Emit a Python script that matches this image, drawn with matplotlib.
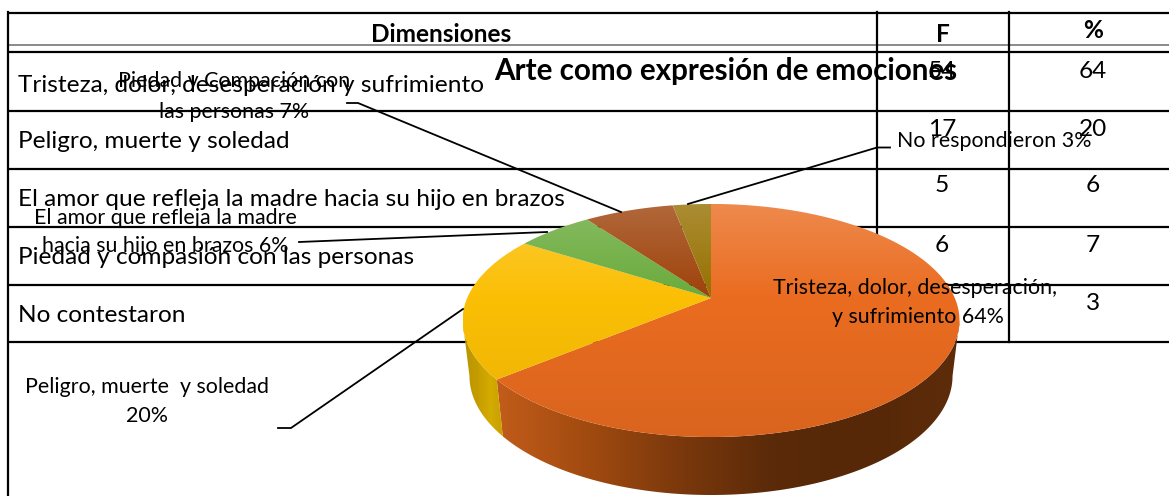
import matplotlib
matplotlib.use('Agg')
import matplotlib.pyplot as plt
import numpy as np
from matplotlib.colors import LinearSegmentedColormap, to_rgb
from matplotlib.patches import Polygon

plt.rcParams['font.family'] = ['Lato', 'DejaVu Sans']

# table
headers = ['Dimensiones', 'F', '%']
dimensiones = ['Tristeza, dolor, desesperación y sufrimiento',
               'Peligro, muerte y soledad',
               'El amor que refleja la madre hacia su hijo en brazos',
               'Piedad y compasión con las personas',
               'No contestaron']
frecuencia = [54, 17, 5, 6, 3]
porcentaje = [64, 20, 6, 7, 3]

# pie
titulo = 'Arte como expresión de emociones'
pie_values = [64, 20, 6, 7, 3]
pie_colors = ['#ea6c20', '#fbbf05', '#6aab3c', '#9e420a', '#967000']

W, H = 1169, 496
fig = plt.figure(figsize=(W/100, H/100), dpi=100)
ax = fig.add_axes([0, 0, 1, 1])
ax.set_xlim(0, W)
ax.set_ylim(H, 0)
ax.axis('off')

# table lines (pixel layout)
row_y = [110.5, 168.5, 226.5, 285, 342]
for y in [12.5, 52] + row_y:
    ax.plot([8, W], [y, y], color='k', lw=1.6, zorder=1, solid_capstyle='butt')
ax.plot([8, W], [45, 45], color='#777777', lw=1.2, zorder=1)
ax.plot([8, 8], [12, H], color='k', lw=1.6, zorder=1)
for x in [877, 1009]:
    ax.plot([x, x], [12, 342], color='k', lw=1.6, zorder=1)

fs_row = 17.6
ax.text(441, 34, headers[0], fontsize=17.6, fontweight='bold', ha='center', va='center', zorder=2)
ax.text(943, 35, headers[1], fontsize=17.6, fontweight='bold', ha='center', va='center', zorder=2)
ax.text(1093, 31, headers[2], fontsize=17.6, fontweight='bold', ha='center', va='center', zorder=2)
for yc, name in zip([85, 142, 200, 258, 316], dimensiones):
    ax.text(18, yc, name, fontsize=fs_row, ha='left', va='center', zorder=2)
for yc, f in zip([71, 129, 186, 245, 303], frecuencia):
    ax.text(942, yc, str(f), fontsize=fs_row, ha='center', va='center', zorder=2)
for yc, p in zip([71, 129, 186, 245, 303], porcentaje):
    ax.text(1093, yc, str(p), fontsize=fs_row, ha='center', va='center', zorder=2)


def project(theta, x0, y0, a, b, k=0.193):
    # circle seen in perspective, theta clockwise from the top
    u = np.sin(theta)
    v = -np.cos(theta)
    d = 1 - k*v
    return x0 + a*u/d, y0 + b*v/d


def fill_gradient(xy, cmap, vertical, zorder):
    poly = Polygon(xy, closed=True, facecolor='none', edgecolor='none', transform=ax.transData)
    ax.add_patch(poly)
    x1, x2 = xy[:, 0].min(), xy[:, 0].max()
    y1, y2 = xy[:, 1].min(), xy[:, 1].max()
    if vertical:
        # gradient is tied to the whole pie top
        y1, y2 = 204, 437
        grad = np.linspace(0, 1, 256).reshape(-1, 1)
    else:
        grad = np.linspace(0, 1, 256).reshape(1, -1)
    im = ax.imshow(grad, extent=[x1, x2, y2, y1], cmap=cmap, aspect='auto', zorder=zorder,
                   interpolation='bilinear', vmin=0, vmax=1)
    im.set_clip_path(poly)


def shade(c, f):
    c = np.array(to_rgb(c))
    if f > 0:
        return tuple(c + (1-c)*f)
    return tuple(c*(1+f))


x0, y0, a, b = 711, 298, 243.8, 112.2
xb, yb, ab, bb = 711, 353, 237, 114.6

edges = np.cumsum([0] + pie_values)/sum(pie_values)*2*np.pi

# side wall, front part only
vis1, vis2 = np.radians(101.1), np.radians(258.9)
wall_cmaps = [
    LinearSegmentedColormap.from_list('w0', ['#c25c1a', '#a04a10', '#7a380c', '#5a2a09', '#562808', '#5e2c0a']),
    LinearSegmentedColormap.from_list('w1', ['#b89400', '#c49c00', '#d4ab00', '#c8a000']),
]
for i in range(2):
    t1 = max(edges[i], vis1)
    t2 = min(edges[i+1], vis2)
    th = np.linspace(t1, t2, 120)
    xt, yt = project(th, x0, y0, a, b)
    xw, yw = project(th[::-1], xb, yb, ab, bb)
    xy = np.column_stack([np.r_[xt, xw], np.r_[yt, yw]])
    fill_gradient(xy, wall_cmaps[i], False, 3)

# top of the pie
for i, col in enumerate(pie_colors):
    th = np.linspace(edges[i], edges[i+1], 160)
    xt, yt = project(th, x0, y0, a, b)
    xy = np.column_stack([np.r_[x0, xt], np.r_[y0, yt]])
    cm = LinearSegmentedColormap.from_list('t%d' % i, [(0, shade(col, 0.2)), (0.4, shade(col, 0.0)),
                                                       (1, shade(col, -0.07))])
    fill_gradient(xy, cm, True, 4)

ax.set_xlim(0, W)
ax.set_ylim(H, 0)

# leader lines
leaders = [([347, 358, 621], [103, 103, 212]),
           ([890, 877, 688], [147.5, 147.5, 204]),
           ([299, 547], [242, 232]),
           ([278, 291, 463], [428, 428, 309])]
for lx, ly in leaders:
    ax.plot(lx, ly, color='k', lw=1.3, zorder=5, solid_joinstyle='miter')

fs_lab = 15.4
ax.text(726, 71, titulo, fontsize=21.3, fontweight='bold', ha='center', va='center', zorder=6)
ax.text(234, 81, 'Piedad y Compación con', fontsize=fs_lab, ha='center', va='center', zorder=6)
ax.text(234, 112, 'las personas 7%', fontsize=fs_lab, ha='center', va='center', zorder=6)
ax.text(165, 218, 'El amor que refleja la madre', fontsize=fs_lab, ha='center', va='center', zorder=6)
ax.text(165, 246, 'hacia su hijo en brazos 6%', fontsize=fs_lab, ha='center', va='center', zorder=6)
ax.text(147, 387, 'Peligro, muerte  y soledad', fontsize=fs_lab, ha='center', va='center', zorder=6)
ax.text(147, 416, '20%', fontsize=fs_lab, ha='center', va='center', zorder=6)
ax.text(994, 141, 'No respondieron 3%', fontsize=fs_lab, ha='center', va='center', zorder=6)
ax.text(915, 288, 'Tristeza, dolor, desesperación,', fontsize=fs_lab, ha='center', va='center', zorder=6)
ax.text(918, 317, 'y sufrimiento 64%', fontsize=fs_lab, ha='center', va='center', zorder=6)

fig.savefig('out.png', dpi=100)
